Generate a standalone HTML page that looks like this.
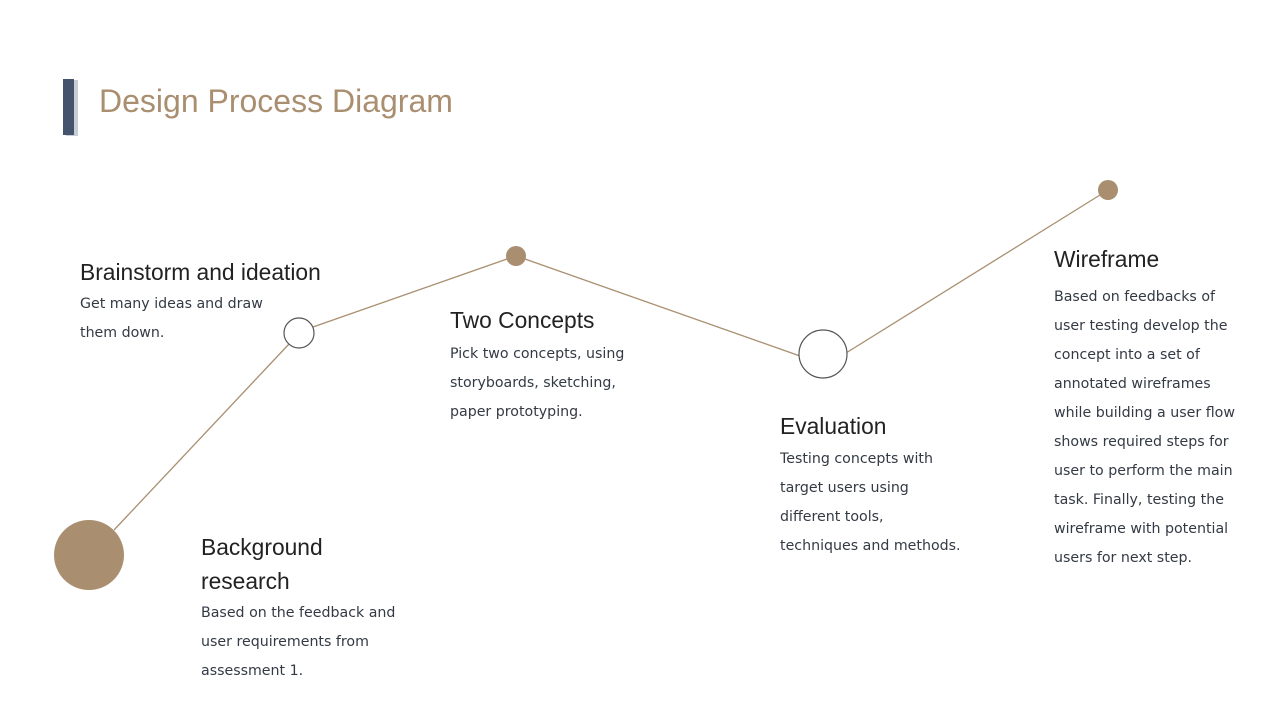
<!DOCTYPE html>
<html><head><style>
body{margin:0;width:1280px;height:720px;background:#fff;position:relative;overflow:hidden;font-family:"Liberation Sans",sans-serif}
.t{position:absolute;font-size:32px;color:#a98f70;left:99px;top:83px}
.h{position:absolute;font-size:22.8px;color:#222;line-height:34px}
.b{position:absolute;font-family:"DejaVu Sans",sans-serif;font-size:14.2px;color:#333a44;line-height:29px}
</style></head><body>
<div style="position:absolute;left:66px;top:80px;width:12px;height:56px;background:#c9ced6"></div>
<div style="position:absolute;left:63px;top:79px;width:11px;height:56px;background:#44546c"></div>
<div class="t">Design Process Diagram</div>
<svg width="1280" height="720" style="position:absolute;left:0;top:0">
<g stroke="#a98f70" stroke-width="1.3" fill="none">
<line x1="114" y1="530" x2="289" y2="344"/>
<line x1="313" y1="327" x2="507" y2="259"/>
<line x1="525" y1="259" x2="800" y2="356"/>
<line x1="846" y1="353" x2="1100" y2="195"/>
</g>
<circle cx="89" cy="555" r="35" fill="#a98f70"/>
<circle cx="299" cy="333" r="15" fill="#fff" stroke="#555" stroke-width="1.2"/>
<circle cx="516" cy="256" r="10" fill="#a98f70"/>
<circle cx="823" cy="354" r="24" fill="#fff" stroke="#555" stroke-width="1.2"/>
<circle cx="1108" cy="190" r="10" fill="#a98f70"/>
</svg>
<div class="h" style="left:80px;top:255px">Brainstorm and ideation</div>
<div class="b" style="left:80px;top:290px">Get many ideas and draw<br>them down.</div>
<div class="h" style="left:450px;top:303px">Two Concepts</div>
<div class="b" style="left:450px;top:340px">Pick two concepts, using<br>storyboards, sketching,<br>paper prototyping.</div>
<div class="h" style="left:780px;top:409px">Evaluation</div>
<div class="b" style="left:780px;top:445px">Testing concepts with<br>target users using<br>different tools,<br>techniques and methods.</div>
<div class="h" style="left:1054px;top:242px">Wireframe</div>
<div class="b" style="left:1054px;top:283px">Based on feedbacks of<br>user testing develop the<br>concept into a set of<br>annotated wireframes<br>while building a user flow<br>shows required steps for<br>user to perform the main<br>task. Finally, testing the<br>wireframe with potential<br>users for next step.</div>
<div class="h" style="left:201px;top:530px">Background<br>research</div>
<div class="b" style="left:201px;top:599px">Based on the feedback and<br>user requirements from<br>assessment 1.</div>
</body></html>
